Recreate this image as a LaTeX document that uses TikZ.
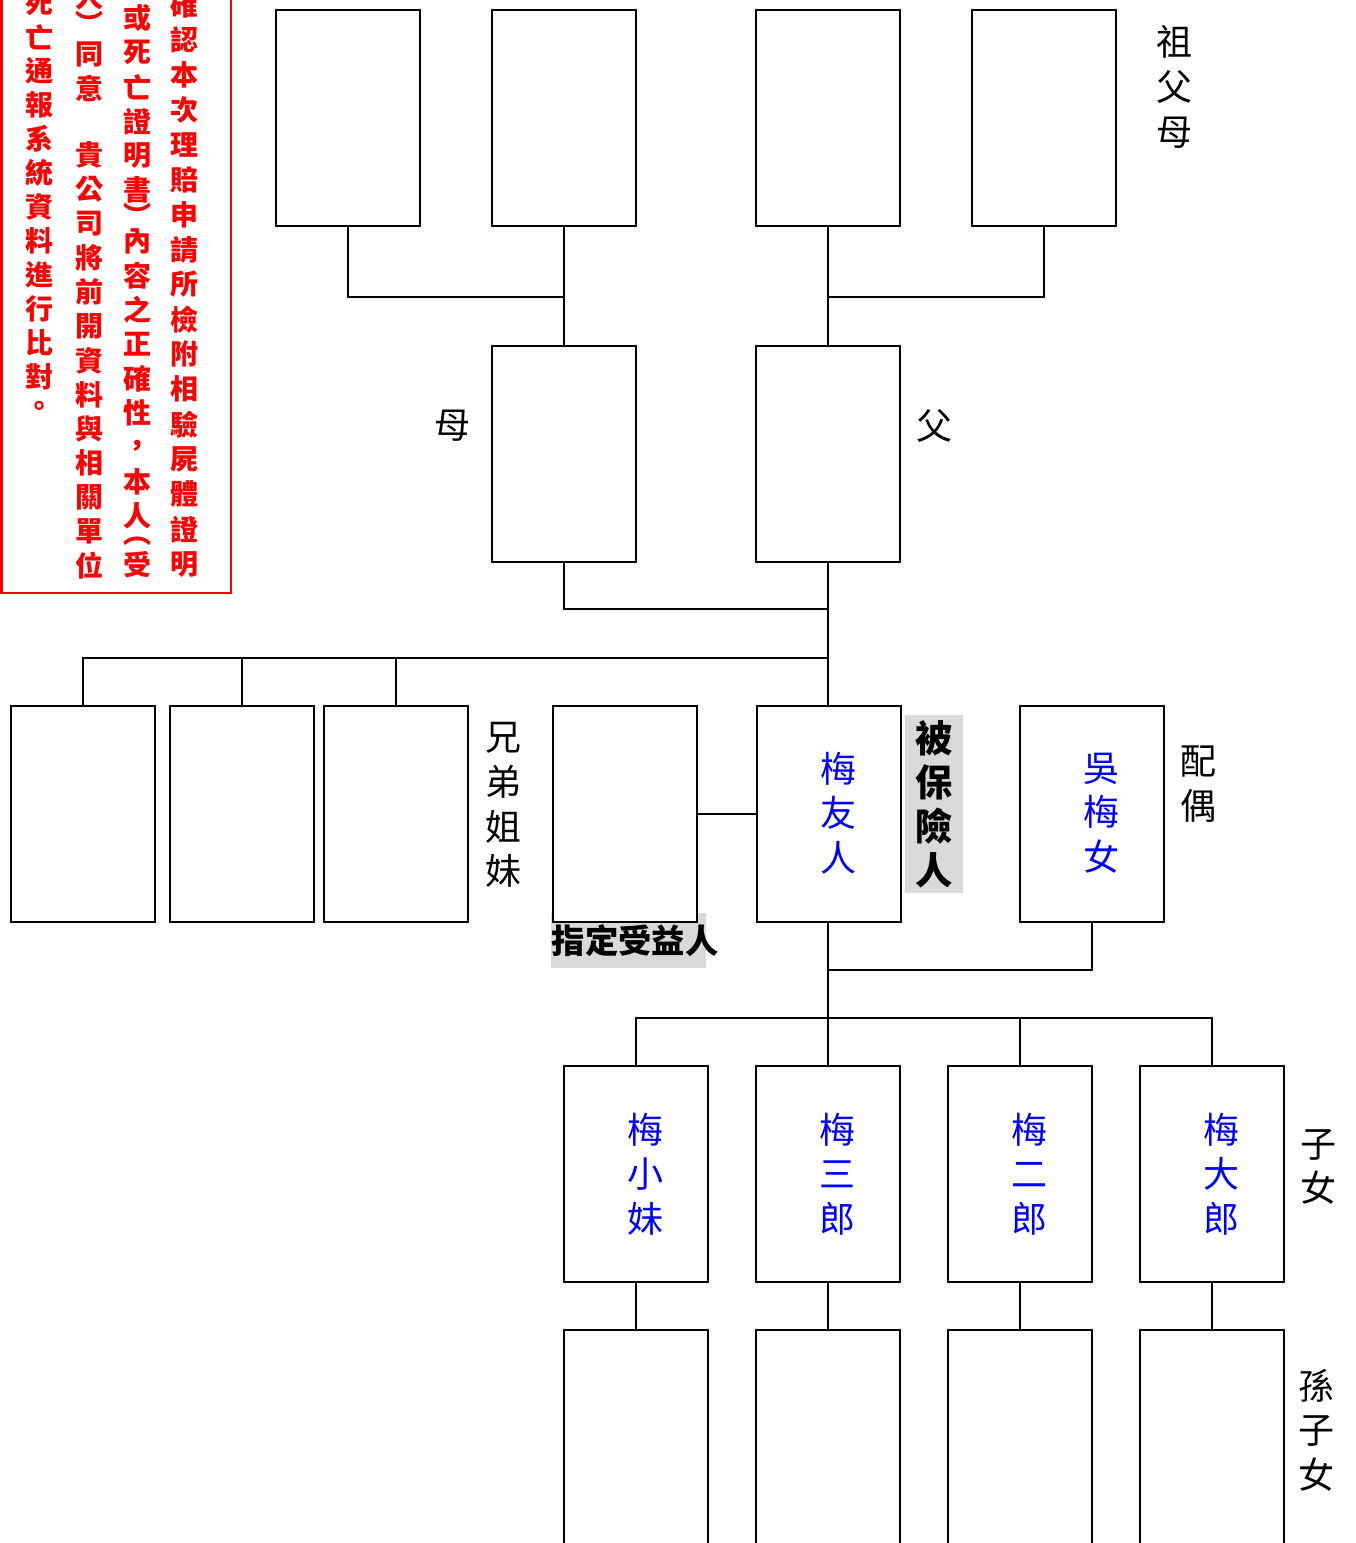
\documentclass[tikz,border=0pt]{standalone}
\usepackage{fontspec}
\setmainfont{Noto Sans CJK TC}
\definecolor{hl}{RGB}{217,217,217}
\begin{document}
\begin{tikzpicture}[x=0.75pt,y=-0.75pt,
  fambox/.style={draw, line width=1.1pt, fill=white, minimum width=108pt, minimum height=162pt, inner sep=0pt},
  conn/.style={line width=1.1pt},
  lbl/.style={font=\fontsize{27pt}{33.5pt}\selectfont, align=center, inner sep=0pt},
  bluelbl/.style={lbl, text=blue},
  boldlbl/.style={font=\fontsize{28pt}{33pt}\selectfont\bfseries, align=center, inner sep=0pt},
  redch/.style={font=\fontsize{21pt}{21pt}\selectfont\bfseries, text=red, inner sep=0pt}]
\useasboundingbox (0,0) rectangle (1356,1543);
\clip (0,0) rectangle (1356,1543);

% red note box
\draw[red, line width=1.5pt] (1.5,-20) rectangle (230.5,593);
\foreach \c [count=\k from 0] in {確,認,本,次,理,賠,申,請,所,檢,附,相,驗,屍,體,證,明}
  \node[redch] (ra\k) at (184,{5+34.94*\k}) {\c};
\foreach \c [count=\k from 0] in {或,死,亡,證,明,書}
  \node[redch] (rb\k) at (137,{18+34.4*\k}) {\c};
\node[redch] (rbp1) at (137,215) {︶};
\foreach \c [count=\k from 0] in {內,容,之,正,確,性,，,本,人}
  \node[redch] (rc\k) at (137,{241+34.4*\k}) {\c};
\node[redch] (rbp2) at (137,541) {︵};
\node[redch] (rbe) at (137,565) {受};
\node[redch] (rd0) at (89,-3) {人};
\node[redch] (rdp) at (89,23) {︶};
\node[redch] (rd1) at (89,55) {同};
\node[redch] (rd2) at (89,89) {意};
\foreach \c [count=\k from 0] in {貴,公,司,將,前,開,資,料,與,相,關,單,位}
  \node[redch] (re\k) at (89,{155+34.25*\k}) {\c};
\foreach \c [count=\k from 0] in {死,亡,通,報,系,統,資,料,進,行,比,對}
  \node[redch] (rf\k) at (40,{3+34*\k}) {\c};
\node[redch] (rfe) at (40,409) {。};

% grandparents
\node[fambox] (g1) at (348,118) {};
\node[fambox] (g2) at (564,118) {};
\node[fambox] (g3) at (828,118) {};
\node[fambox] (g4) at (1044,118) {};
\node[lbl] (lg) at (1174,87) {祖\\父\\母};

% parents
\node[fambox] (mo) at (564,454) {};
\node[fambox] (fa) at (828,454) {};
\node[lbl] (lmo) at (452,426) {母};
\node[lbl] (lfa) at (934,426) {父};

% siblings, beneficiary, insured, spouse
\node[fambox] (s1) at (83,814) {};
\node[fambox] (s2) at (242,814) {};
\node[fambox] (s3) at (396,814) {};
\node[lbl] (lsib) at (503,805) {兄\\弟\\姐\\妹};
\node[fill=hl, minimum width=116pt, minimum height=41pt, inner sep=0pt] (benbg) at (628.5,940.5) {};
\node[fambox] (ben) at (625,814) {};
\node[font=\fontsize{25pt}{25pt}\selectfont\bfseries, inner sep=0pt] (lben) at (635,941) {指定受益人};
\node[fambox] (ins) at (829,814) {};
\node[bluelbl] (insn) at (838,813) {梅\\友\\人};
\node[fill=hl, minimum width=43.5pt, minimum height=133.5pt, inner sep=0pt] (insbg) at (934,804) {};
\node[boldlbl] (lins) at (934,804) {被\\保\\險\\人};
\node[fambox] (sp) at (1092,814) {};
\node[bluelbl] (spn) at (1101,813) {吳\\梅\\女};
\node[lbl] (lsp) at (1198,784) {配\\偶};

% children
\node[fambox] (c1) at (636,1174) {};
\node[fambox] (c2) at (828,1174) {};
\node[fambox] (c3) at (1020,1174) {};
\node[fambox] (c4) at (1212,1174) {};
\node[bluelbl] (c1n) at (645,1174) {梅\\小\\妹};
\node[bluelbl] (c2n) at (837,1174) {梅\\三\\郎};
\node[bluelbl] (c3n) at (1029,1174) {梅\\二\\郎};
\node[bluelbl] (c4n) at (1221,1174) {梅\\大\\郎};
\node[lbl] (lch) at (1318,1167) {子\\女};

% grandchildren
\node[fambox] (d1) at (636,1438) {};
\node[fambox] (d2) at (828,1438) {};
\node[fambox] (d3) at (1020,1438) {};
\node[fambox] (d4) at (1212,1438) {};
\node[lbl] (lgc) at (1316,1430) {孫\\子\\女};

% connectors
\coordinate (jm) at (564,297);
\coordinate (jf) at (828,297);
\coordinate (jp) at (828,609);
\coordinate (js) at (828,658);
\coordinate (jw) at (828,970);
\coordinate (jc) at (828,1018);
\draw[conn] (g1.south) |- (jm);
\draw[conn] (g2.south) -- (mo.north);
\draw[conn] (g4.south) |- (jf);
\draw[conn] (g3.south) -- (fa.north);
\draw[conn] (mo.south) |- (jp);
\draw[conn] (fa.south) -- (fa.south |- ins.north);
\draw[conn] (s1.north) |- (js);
\draw[conn] (s2.north) -- (s2.north |- js);
\draw[conn] (s3.north) -- (s3.north |- js);
\draw[conn] (ben.east) -- (ins.west);
\draw[conn] (sp.south) |- (jw);
\draw[conn] (ins.south -| c2.north) -- (c2.north);
\draw[conn] (c1.north) |- (c4.north |- jc) -- (c4.north);
\draw[conn] (c3.north) -- (c3.north |- jc);
\draw[conn] (c1.south) -- (d1.north);
\draw[conn] (c2.south) -- (d2.north);
\draw[conn] (c3.south) -- (d3.north);
\draw[conn] (c4.south) -- (d4.north);
\end{tikzpicture}
\end{document}
